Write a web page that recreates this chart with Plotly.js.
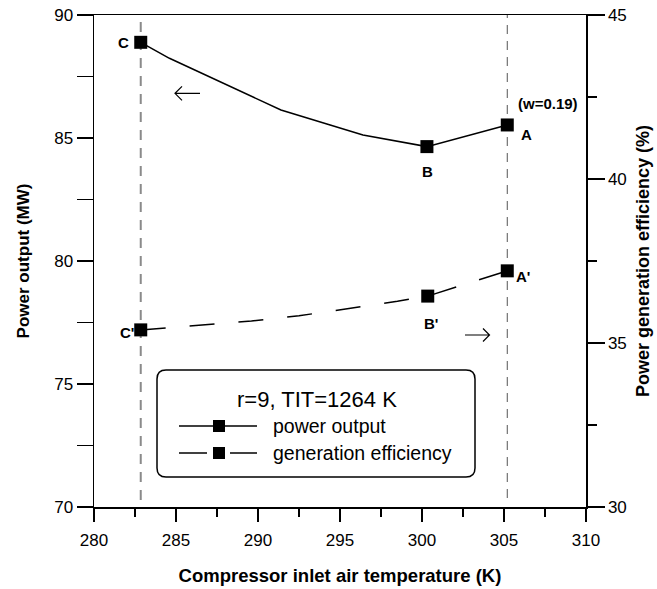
<!DOCTYPE html>
<html>
<head>
<meta charset="utf-8">
<script src="https://cdn.plot.ly/plotly-3.0.1.min.js"></script>
<style>
  html, body { margin: 0; padding: 0; background: #fff; }
  #chart { width: 657px; height: 589px; }
</style>
</head>
<body>
<div id="chart"></div>
<script>
// ---- data ----
const powerT  = [282.85, 284.6, 291.4, 296.4, 300.3, 305.2];
const powerMW = [88.89, 88.24, 86.14, 85.12, 84.65, 85.53];
const powerMarkT  = [282.85, 300.3, 305.2];
const powerMarkMW = [88.89, 84.65, 85.53];
const powerLabels = ['C', 'B', 'A'];

const effT   = [282.85, 286.6, 289.6, 292.5, 295.5, 298.5, 300.35, 305.2];
const effPct = [35.40, 35.54, 35.67, 35.83, 36.04, 36.27, 36.43, 37.20];
const effMarkT   = [282.85, 300.35, 305.2];
const effMarkPct = [35.40, 36.43, 37.20];
const effLabels  = ["C'", "B'", "A'"];

const xTicks  = [280, 285, 290, 295, 300, 305, 310];
const yTicks  = [70, 75, 80, 85, 90];
const y2Ticks = [30, 35, 40, 45];

const legendTitle = 'r=9, TIT=1264 K';
const seriesNames = ['power output', 'generation efficiency'];
const noteText = '(w=0.19)';

// ---- drawing ----
const FONT = 'Liberation Sans, Arial, Helvetica, sans-serif';

const traces = [
  { x: powerT, y: powerMW, mode: 'lines', line: { color: 'black', width: 1.5 },
    name: seriesNames[0], showlegend: false, xaxis: 'x', yaxis: 'y' },
  { x: powerMarkT, y: powerMarkMW, mode: 'markers',
    marker: { symbol: 'square', size: 13, color: 'black' },
    name: seriesNames[0], showlegend: false, xaxis: 'x', yaxis: 'y' },
  { x: effT, y: effPct, mode: 'lines', line: { color: 'black', width: 1.5, dash: '25px,24px' },
    name: seriesNames[1], showlegend: false, xaxis: 'x', yaxis: 'y2' },
  { x: effMarkT, y: effMarkPct, mode: 'markers',
    marker: { symbol: 'square', size: 13, color: 'black' },
    name: seriesNames[1], showlegend: false, xaxis: 'x', yaxis: 'y2' }
];

const labelFont = { family: FONT, size: 15, color: 'black', weight: 'bold' };
const pShifts = [[-17, 0], [1, -25], [19, -10]];
const eShifts = [[-14, -3], [3, -27], [16, -6]];

const annotations = [];
powerLabels.forEach((t, i) => annotations.push({
  x: powerMarkT[i], y: powerMarkMW[i], xref: 'x', yref: 'y', text: '<b>' + t + '</b>',
  showarrow: false, xanchor: 'center', yanchor: 'middle',
  xshift: pShifts[i][0], yshift: pShifts[i][1], font: labelFont
}));
effLabels.forEach((t, i) => annotations.push({
  x: effMarkT[i], y: effMarkPct[i], xref: 'x', yref: 'y2', text: '<b>' + t + '</b>',
  showarrow: false, xanchor: 'center', yanchor: 'middle',
  xshift: eShifts[i][0], yshift: eShifts[i][1], font: labelFont
}));
annotations.push({
  x: powerMarkT[2], y: powerMarkMW[2], xref: 'x', yref: 'y', text: '<b>' + noteText + '</b>',
  showarrow: false, xanchor: 'center', yanchor: 'middle', xshift: 41, yshift: 21, font: labelFont
});

// custom legend
const px = v => (v - 94) / 492;
const py = v => (507 - v) / 492;
annotations.push({ x: px(317), y: py(399), xref: 'paper', yref: 'paper', text: legendTitle,
  showarrow: false, xanchor: 'center', yanchor: 'middle', font: { family: FONT, size: 22, color: 'black' } });
annotations.push({ x: px(271), y: py(426), xref: 'paper', yref: 'paper', text: seriesNames[0],
  showarrow: false, xanchor: 'left', yanchor: 'middle', font: { family: FONT, size: 19.5, color: 'black' } });
annotations.push({ x: px(271), y: py(453), xref: 'paper', yref: 'paper', text: seriesNames[1],
  showarrow: false, xanchor: 'left', yanchor: 'middle', font: { family: FONT, size: 19.5, color: 'black' } });

const bx0 = px(157), bx1 = px(475), by0 = py(477), by1 = py(370), r = 9 / 492;
const boxPath = `M ${bx0 + r},${by0} L ${bx1 - r},${by0} Q ${bx1},${by0} ${bx1},${by0 + r} ` +
  `L ${bx1},${by1 - r} Q ${bx1},${by1} ${bx1 - r},${by1} L ${bx0 + r},${by1} ` +
  `Q ${bx0},${by1} ${bx0},${by1 - r} L ${bx0},${by0 + r} Q ${bx0},${by0} ${bx0 + r},${by0} Z`;

// direction arrows (open arrowheads)
const arrowL = `M ${px(200)},${py(93.3)} L ${px(175)},${py(93.3)} M ${px(182)},${py(86.3)} ` +
  `L ${px(175)},${py(93.3)} L ${px(182)},${py(100.3)}`;
const arrowR = `M ${px(465)},${py(335)} L ${px(489.5)},${py(335)} M ${px(483)},${py(328.5)} ` +
  `L ${px(489.5)},${py(335)} L ${px(483)},${py(341.5)}`;

const ms = 6 / 492;
const shapes = [
  { type: 'line', xref: 'x', yref: 'paper', x0: powerMarkT[0], x1: powerMarkT[0], y0: py(500), y1: 1,
    line: { color: '#8a8a8a', width: 2, dash: '10px,8px' }, layer: 'below' },
  { type: 'line', xref: 'x', yref: 'paper', x0: powerMarkT[2], x1: powerMarkT[2], y0: py(498), y1: 1,
    line: { color: '#555', width: 1, dash: '9px,7px' }, layer: 'below' },
  { type: 'path', xref: 'paper', yref: 'paper', path: boxPath, line: { color: 'black', width: 1.5 },
    fillcolor: 'rgba(0,0,0,0)' },
  { type: 'path', xref: 'paper', yref: 'paper', path: arrowL, line: { color: 'black', width: 1.2 } },
  { type: 'path', xref: 'paper', yref: 'paper', path: arrowR, line: { color: 'black', width: 1.2 } },
  { type: 'line', xref: 'paper', yref: 'paper', x0: px(179), x1: px(257), y0: py(426), y1: py(426),
    line: { color: 'black', width: 1.5 } },
  { type: 'rect', xref: 'paper', yref: 'paper', x0: px(219) - ms, x1: px(219) + ms,
    y0: py(426) - ms, y1: py(426) + ms, fillcolor: 'black', line: { width: 0 } },
  { type: 'line', xref: 'paper', yref: 'paper', x0: px(179), x1: px(207), y0: py(453), y1: py(453),
    line: { color: 'black', width: 1.5 } },
  { type: 'line', xref: 'paper', yref: 'paper', x0: px(230), x1: px(257), y0: py(453), y1: py(453),
    line: { color: 'black', width: 1.5 } },
  { type: 'rect', xref: 'paper', yref: 'paper', x0: px(219) - ms, x1: px(219) + ms,
    y0: py(453) - ms, y1: py(453) + ms, fillcolor: 'black', line: { width: 0 } }
];

const tickFont = { family: FONT, size: 17, color: 'black' };
const layout = {
  width: 657, height: 589,
  margin: { l: 94, r: 71, t: 15, b: 82 },
  paper_bgcolor: 'white', plot_bgcolor: 'white',
  showlegend: false,
  font: { family: FONT, color: 'black' },
  xaxis: {
    range: [280, 310], tickvals: xTicks, ticks: 'outside', ticklen: 13, tickwidth: 1.5,
    tickcolor: 'black', showline: true, linecolor: 'black', linewidth: 1.5, mirror: true,
    showgrid: false, zeroline: false, tickfont: tickFont, ticklabelstandoff: 4,
    minor: { dtick: 2.5, ticks: 'outside', ticklen: 8, tickwidth: 1.5, tickcolor: 'black', showgrid: false },
    title: { text: '<b>Compressor inlet air temperature (K)</b>', standoff: 20,
      font: { family: FONT, size: 18.5, color: 'black' } }
  },
  yaxis: {
    range: [70, 90], tickvals: yTicks, ticks: 'outside', ticklen: 16, tickwidth: 1.5,
    tickcolor: 'black', showline: true, linecolor: 'black', linewidth: 1.5,
    showgrid: false, zeroline: false, tickfont: tickFont,
    minor: { dtick: 2.5, ticks: 'outside', ticklen: 16, tickwidth: 1.5, tickcolor: 'black', showgrid: false },
    title: { text: '<b>Power output (MW)</b>', standoff: 20,
      font: { family: FONT, size: 17, color: 'black' } }
  },
  yaxis2: {
    range: [30, 45], tickvals: y2Ticks, overlaying: 'y', side: 'right', anchor: 'x',
    ticks: 'outside', ticklen: 17, tickwidth: 1.5, tickcolor: 'black',
    showline: true, linecolor: 'black', linewidth: 1.5,
    showgrid: false, zeroline: false, tickfont: tickFont,
    minor: { dtick: 2.5, ticks: 'outside', ticklen: 9, tickwidth: 1.5, tickcolor: 'black', showgrid: false },
    title: { text: '<b>Power generation efficiency (%)</b>', standoff: 10,
      font: { family: FONT, size: 18, color: 'black' } }
  },
  annotations: annotations,
  shapes: shapes
};

Plotly.newPlot('chart', traces, layout, { displayModeBar: false, staticPlot: true });
</script>
</body>
</html>
